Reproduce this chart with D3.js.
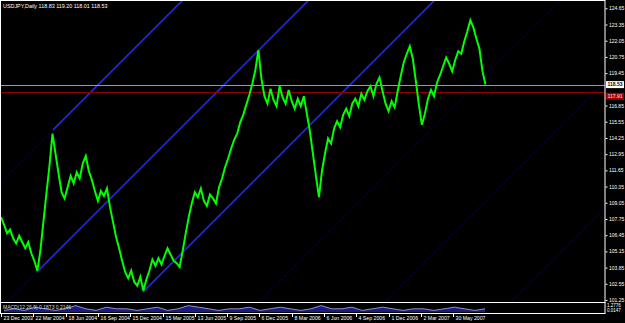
<!DOCTYPE html>
<html lang="en">
<head>
<meta charset="UTF-8">
<title>USDJPY,Daily</title>
<script src="https://d3js.org/d3.v7.min.js"></script>
<style>
  html, body { margin: 0; padding: 0; background: #000; }
  svg { display: block; }
  text { font-family: "Liberation Sans", Arial, sans-serif; }
</style>
</head>
<body>
<script>
    // close prices, one value every 6 daily bars (bar index = k * 6)
    var step = 6;
    var closes = [
        107.9, 107.3, 106.6, 106.9, 106.2, 105.8, 106.4, 105.9, 105.4, 105.9,
        105.0, 104.4, 103.6, 105.2, 107.5, 109.8, 112.0, 114.6, 113.0, 111.4,
        109.9, 109.4, 110.3, 111.2, 110.6, 111.5, 111.0, 112.2, 112.8, 111.6,
        110.9, 110.0, 109.2, 110.0, 109.6, 110.2, 108.7, 107.5, 106.3, 105.4,
        104.4, 103.5, 103.0, 103.6, 102.7, 102.4, 103.1, 102.0, 102.9, 103.6,
        104.5, 104.0, 104.6, 104.1, 104.8, 105.4, 104.9, 104.4, 104.2, 103.9,
        105.2, 106.6, 107.9, 109.0, 109.9, 109.5, 110.2, 109.2, 108.8, 109.7,
        109.4, 109.0, 110.3, 111.0, 111.9, 112.6, 113.4, 114.1, 114.6, 115.5,
        116.1, 116.9, 117.7, 118.6, 119.7, 121.3, 119.0, 117.6, 117.0, 118.2,
        117.3, 116.8, 118.4, 117.5, 117.0, 118.1, 117.2, 116.6, 117.4, 116.8,
        117.6, 116.2, 114.8, 113.0, 111.2, 109.5, 111.6, 113.0, 114.2, 113.8,
        115.0, 115.6, 115.1, 116.1, 116.6, 116.0, 117.0, 117.4, 116.8, 117.8,
        117.3, 118.0, 118.4, 117.6, 118.6, 119.1, 118.0, 117.0, 116.4, 117.2,
        116.7, 118.0, 119.2, 120.3, 121.0, 121.6, 120.6, 118.8, 116.9, 115.3,
        116.2, 117.4, 118.1, 117.6, 118.7, 119.3, 120.0, 120.7, 120.2, 119.6,
        120.5, 121.2, 121.0, 122.0, 122.8, 123.7, 123.1, 122.2, 121.4, 119.6,
        118.53
    ];

    // price scale labels (right side)
    var priceTicks = [124.65, 123.35, 122.05, 120.75, 119.45, 116.85, 115.55, 114.25,
        112.95, 111.65, 110.35, 109.05, 107.75, 106.45, 105.15, 103.85, 102.55, 101.25];

    // date labels, every 64 bars
    var dateLabels = ["23 Dec 2003", "22 Mar 2004", "18 Jun 2004", "16 Sep 2004", "15 Dec 2004",
        "15 Mar 2005", "13 Jun 2005", "9 Sep 2005", "6 Dec 2005", "8 Mar 2006", "6 Jun 2006",
        "4 Sep 2006", "1 Dec 2006", "2 Mar 2007", "30 May 2007"];
    var labelEvery = 64;

    // equidistant channel: anchor bar, anchor price, slope per bar, offsets
    var channelAnchor = 71;
    var channelPrice = 103.49;
    var channelSlope = 0.0405;
    var channelOffsets = [10.11, 0, -10.11, -20.22, -30.33, -40.44];
    var channelStarts = [103, 71, 281, null, null, null];

    var bidPrice = 118.53;
    var redLine = 117.91;
    var header = "USDJPY,Daily  118.83 119.20 118.01 118.53";

    // small indicator in the lower window
    var indicator = [1, 2, 1, 3, 2, 1, 2, 4, 2, 1, 3, 2, 2, 1, 2, 3, 1, 2, 4, 3,
        2, 1, 2, 2, 3, 1, 2, 3, 2, 1, 2, 4, 2, 2, 3, 1, 2, 3, 2, 1, 2, 2, 1, 2, 3, 2, 1, 2];

    var width = 625, height = 323;
    var plotL = 1, plotR = 605, plotT = 1, plotB = 302;
    var subT = 303, subB = 313;

    var svg = d3.select("body").append("svg")
        .attr("width", width)
        .attr("height", height)
        .style("background", "#000");

    var x = d3.scaleLinear()
        .domain([0, labelEvery * 18])
        .range([1, 1 + 32.3 * 18]);

    var y = d3.scaleLinear()
        .domain([101.25, 124.65])
        .range([300, 8.3]);

    svg.append("clipPath").attr("id", "plot")
        .append("rect")
        .attr("x", plotL).attr("y", plotT)
        .attr("width", plotR - plotL).attr("height", plotB - plotT);

    var plot = svg.append("g").attr("clip-path", "url(#plot)");

    // channel lines
    var lastBar = x.invert(plotR);
    var firstBar = x.invert(plotL);
    function chan(off, i) { return channelPrice + off + channelSlope * (i - channelAnchor); }

    channelOffsets.forEach(function (off, n) {
        plot.append("line")
            .attr("x1", x(firstBar)).attr("y1", y(chan(off, firstBar)))
            .attr("x2", x(lastBar)).attr("y2", y(chan(off, lastBar)))
            .attr("stroke", "#0c0c5a")
            .attr("stroke-width", 1)
            .attr("stroke-dasharray", "1,1");
        if (channelStarts[n] !== null) {
            var s = channelStarts[n];
            plot.append("line")
                .attr("x1", x(s)).attr("y1", y(chan(off, s)))
                .attr("x2", x(lastBar)).attr("y2", y(chan(off, lastBar)))
                .attr("stroke", "#2626f0")
                .attr("stroke-width", 1.6);
        }
    });

    // horizontal lines
    plot.append("line")
        .attr("x1", plotL).attr("x2", plotR)
        .attr("y1", Math.round(y(bidPrice)) + 0.5).attr("y2", Math.round(y(bidPrice)) + 0.5)
        .attr("stroke", "#9a9a9a");
    plot.append("line")
        .attr("x1", plotL).attr("x2", plotR)
        .attr("y1", Math.round(y(redLine)) + 0.5).attr("y2", Math.round(y(redLine)) + 0.5)
        .attr("stroke", "#8a0000");

    // price line
    var line = d3.line()
        .x(function (d, k) { return x(k * step); })
        .y(function (d) { return y(d); });

    plot.append("path")
        .datum(closes)
        .attr("d", line)
        .attr("fill", "none")
        .attr("stroke", "#00ff00")
        .attr("stroke-width", 2)
        .attr("stroke-linejoin", "miter");

    // frames
    svg.append("rect")
        .attr("x", 0.5).attr("y", 0.5)
        .attr("width", plotR - 0.5).attr("height", plotB)
        .attr("fill", "none").attr("stroke", "#fff");
    svg.append("rect")
        .attr("x", 0.5).attr("y", plotB + 0.5)
        .attr("width", plotR - 0.5).attr("height", subB - plotB)
        .attr("fill", "none").attr("stroke", "#fff");

    // header
    svg.append("text")
        .attr("x", 3).attr("y", 8)
        .attr("fill", "#fff")
        .attr("font-size", 5.4)
        .text(header);

    // price axis
    var axisR = svg.append("g")
        .attr("transform", "translate(" + (plotR + 0.5) + ",0)")
        .call(d3.axisRight(y).tickValues(priceTicks).tickSize(2).tickPadding(1.5)
            .tickFormat(d3.format(".2f")));
    axisR.select(".domain").remove();
    axisR.selectAll("line").attr("stroke", "#fff");
    axisR.selectAll("text")
        .attr("fill", "#fff")
        .attr("font-size", 5)
        .style("font-family", "Liberation Sans, Arial, sans-serif");

    // price label boxes
    var boxes = [[bidPrice, "#fff", "#000"], [redLine, "#a00000", "#ffb0b0"]];
    boxes.forEach(function (b, n) {
        var yy = y(b[0]) + (n === 0 ? -3.5 : 0.5);
        svg.append("rect")
            .attr("x", plotR + 1).attr("y", yy)
            .attr("width", 18).attr("height", 7)
            .attr("fill", b[1]);
        svg.append("text")
            .attr("x", plotR + 2.5).attr("y", yy + 5.4)
            .attr("fill", b[2])
            .attr("font-size", 5)
            .attr("font-weight", "bold")
            .text(d3.format(".2f")(b[0]));
    });

    // indicator window
    var xi = d3.scaleLinear().domain([0, indicator.length - 1]).range([4, 485]);
    var yi = d3.scaleLinear().domain([0, 5]).range([subB - 1, subT + 1]);
    svg.append("path")
        .datum(indicator)
        .attr("d", d3.area().x(function (d, k) { return xi(k); }).y0(subB - 1).y1(function (d) { return yi(d); }))
        .attr("fill", "#1a1a80");
    svg.append("path")
        .datum(indicator)
        .attr("d", d3.line().x(function (d, k) { return xi(k); }).y(function (d) { return yi(d); }))
        .attr("fill", "none")
        .attr("stroke", "#c8c8ff")
        .attr("stroke-width", 0.7);
    svg.append("text")
        .attr("x", 3).attr("y", subT + 6)
        .attr("fill", "#ddd")
        .attr("font-size", 5)
        .text("MACD(12,26,9) 0.1873 0.2146");
    svg.append("text")
        .attr("x", plotR + 2).attr("y", subT + 4)
        .attr("fill", "#fff").attr("font-size", 4.5)
        .text("1.2776");
    svg.append("text")
        .attr("x", plotR + 2).attr("y", subT + 9)
        .attr("fill", "#fff").attr("font-size", 4.5)
        .text("0.0147");

    // date axis
    var dateG = svg.append("g");
    dateLabels.forEach(function (lab, n) {
        var xx = Math.round(x(n * labelEvery)) + 0.5;
        dateG.append("line")
            .attr("x1", xx).attr("x2", xx)
            .attr("y1", subB + 1).attr("y2", subB + 4)
            .attr("stroke", "#fff");
        dateG.append("text")
            .attr("x", xx + 2).attr("y", 320)
            .attr("fill", "#fff")
            .attr("font-size", 5.2)
            .text(lab);
    });
</script>
</body>
</html>
